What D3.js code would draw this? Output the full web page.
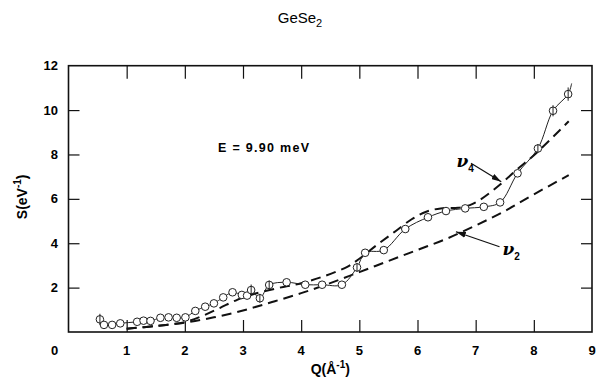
<!DOCTYPE html>
<html>
<head>
<meta charset="utf-8">
<script src="https://cdn.jsdelivr.net/npm/d3@7"></script>
<style>
  body { margin: 0; background: #fff; }
  svg { display: block; font-family: "Liberation Sans", Arial, sans-serif; }
</style>
</head>
<body>
<svg id="chart" width="597" height="379"></svg>
<script>
// measured points, Q (1/A) and S (1/eV)
const pointQ = [0.54, 0.61, 0.75, 0.89, 1.18, 1.29, 1.41, 1.58, 1.72, 1.86, 2.01, 2.18, 2.35, 2.50,
  2.66, 2.82, 2.98, 3.07, 3.14, 3.29, 3.45, 3.75, 4.07, 4.36, 4.70, 4.96, 5.10, 5.42, 5.79,
  6.18, 6.49, 6.82, 7.14, 7.42, 7.72, 8.07, 8.33, 8.59];
const pointS = [0.57, 0.32, 0.32, 0.39, 0.46, 0.51, 0.50, 0.64, 0.66, 0.64, 0.66, 0.95, 1.14, 1.29,
  1.56, 1.79, 1.67, 1.64, 1.89, 1.52, 2.12, 2.24, 2.13, 2.13, 2.13, 2.91, 3.57, 3.69, 4.64,
  5.17, 5.45, 5.57, 5.64, 5.84, 7.15, 8.27, 9.97, 10.72];
// half length of the error bars
const pointErr = [0.25, 0, 0, 0, 0, 0, 0, 0, 0, 0, 0, 0, 0, 0,
  0, 0, 0, 0, 0.25, 0.2, 0.2, 0, 0, 0, 0, 0.2, 0, 0, 0,
  0, 0, 0, 0, 0, 0, 0.2, 0.25, 0.3];

// solid guide line ends a bit past the last point
const tailQ = [8.65];
const tailS = [11.2];

// model curves
const nu4Q = [1.0, 1.5, 2.0, 2.3, 2.6, 2.9, 3.2, 3.6, 4.0, 4.4, 4.8, 5.0, 5.3, 5.6, 5.9, 6.15, 6.4, 6.7, 6.9, 7.1, 7.4, 7.7, 8.05, 8.6];
const nu4S = [0.15, 0.27, 0.45, 0.72, 1.08, 1.45, 1.72, 1.98, 2.2, 2.52, 2.95, 3.3, 3.92, 4.5, 5.08, 5.42, 5.57, 5.6, 5.72, 6.0, 6.6, 7.3, 8.08, 9.5];
const nu2Q = [1.0, 1.5, 2.0, 2.5, 3.0, 3.5, 4.0, 4.5, 5.0, 5.5, 6.0, 6.5, 7.0, 7.5, 8.0, 8.6];
const nu2S = [0.15, 0.27, 0.42, 0.66, 0.97, 1.35, 1.75, 2.2, 2.7, 3.2, 3.7, 4.2, 4.8, 5.45, 6.2, 7.07];

const xTicks = [0, 1, 2, 3, 4, 5, 6, 7, 8, 9];
const yTicks = [2, 4, 6, 8, 10, 12];
const innerXTicks = [1, 2, 3, 4, 5, 6, 7, 8];
const innerYTicks = [2, 4, 6, 8, 10];

// annotation positions in data units
const labels = [
  { name: "\u03BD", sub: "4", q: 6.67, s: 7.43, from: [6.92, 7.6], to: [7.44, 6.77] },
  { name: "\u03BD", sub: "2", q: 7.46, s: 3.47, from: [7.41, 3.84], to: [6.66, 4.52] }
];

const svg = d3.select("#chart");
const x = d3.scaleLinear().domain([0, 9]).range([68.5, 592]);
const y = d3.scaleLinear().domain([0, 12]).range([332, 65.7]);

// inward ticks on all four sides
svg.append("g").attr("transform", `translate(0,${y(0)})`)
  .call(d3.axisBottom(x).tickValues(innerXTicks).tickSize(-12).tickFormat(""))
  .call(g => g.select(".domain").remove());
svg.append("g").attr("transform", `translate(0,${y(12)})`)
  .call(d3.axisTop(x).tickValues(innerXTicks).tickSize(-13).tickFormat(""))
  .call(g => g.select(".domain").remove());
svg.append("g").attr("transform", `translate(${x(0)},0)`)
  .call(d3.axisLeft(y).tickValues(innerYTicks).tickSize(-11).tickFormat(""))
  .call(g => g.select(".domain").remove());
svg.append("g").attr("transform", `translate(${x(9)},0)`)
  .call(d3.axisRight(y).tickValues(innerYTicks).tickSize(-11).tickFormat(""))
  .call(g => g.select(".domain").remove());
svg.selectAll(".tick line").attr("stroke", "#111").attr("stroke-width", 1.2);

svg.append("rect")
  .attr("x", x(0)).attr("y", y(12))
  .attr("width", x(9) - x(0)).attr("height", y(0) - y(12))
  .attr("fill", "none").attr("stroke", "#111").attr("stroke-width", 1.6);

// tick labels
svg.append("g").selectAll("text").data(xTicks).join("text")
  .attr("x", d => d === 0 ? x(0) - 14 : x(d))
  .attr("y", 355)
  .attr("text-anchor", "middle")
  .attr("font-size", 13).attr("font-weight", "bold")
  .text(d => d);
svg.append("g").selectAll("text").data(yTicks).join("text")
  .attr("x", 58)
  .attr("y", d => y(d) + 4.5)
  .attr("text-anchor", "end")
  .attr("font-size", 13).attr("font-weight", "bold")
  .text(d => d);

// axis titles
svg.append("text")
  .attr("x", (x(0) + x(9)) / 2).attr("y", 374)
  .attr("text-anchor", "middle").attr("font-size", 14).attr("font-weight", "bold")
  .html('Q(Å<tspan dy="-6" font-size="10">-1</tspan><tspan dy="6">)</tspan>');
svg.append("text")
  .attr("transform", `translate(27,${(y(0) + y(12)) / 2 - 2}) rotate(-90)`)
  .attr("text-anchor", "middle").attr("font-size", 14).attr("font-weight", "bold")
  .html('S(eV<tspan dy="-6" font-size="10">-1</tspan><tspan dy="6">)</tspan>');

svg.append("text")
  .attr("x", 300).attr("y", 23)
  .attr("text-anchor", "middle").attr("font-size", 15)
  .html('GeSe<tspan dy="4" font-size="11">2</tspan>');

svg.append("text")
  .attr("x", x(2.57)).attr("y", y(8.1))
  .attr("font-size", 12.5).attr("font-weight", "bold").attr("letter-spacing", 1.3)
  .text("E = 9.90 meV");

// dashed model curves
const curve = (qs, ss) => qs.map((q, i) => [x(q), y(ss[i])]);
const smooth = d3.line().curve(d3.curveCatmullRom.alpha(0.5));
svg.append("path").attr("d", smooth(curve(nu2Q, nu2S)))
  .attr("fill", "none").attr("stroke", "#111").attr("stroke-width", 2)
  .attr("stroke-dasharray", "10,6");
svg.append("path").attr("d", smooth(curve(nu4Q, nu4S)))
  .attr("fill", "none").attr("stroke", "#111").attr("stroke-width", 2)
  .attr("stroke-dasharray", "10,6");

// solid line through the points
svg.append("path")
  .attr("d", smooth(curve(pointQ.concat(tailQ), pointS.concat(tailS))))
  .attr("fill", "none").attr("stroke", "#222").attr("stroke-width", 1);

// points with error bars
const pts = pointQ.map((q, i) => ({ q, s: pointS[i], e: pointErr[i] }));
const pg = svg.append("g");
pg.selectAll("circle").data(pts).join("circle")
  .attr("cx", d => x(d.q)).attr("cy", d => y(d.s)).attr("r", 3.8)
  .attr("fill", "#fff").attr("stroke", "#222").attr("stroke-width", 1);
pg.selectAll("line").data(pts.filter(d => d.e > 0)).join("line")
  .attr("x1", d => x(d.q)).attr("x2", d => x(d.q))
  .attr("y1", d => y(d.s - d.e)).attr("y2", d => y(d.s + d.e))
  .attr("stroke", "#222").attr("stroke-width", 1);

// labels with arrows
svg.append("defs").append("marker")
  .attr("id", "head").attr("viewBox", "0 0 10 6")
  .attr("refX", 10).attr("refY", 3)
  .attr("markerWidth", 10).attr("markerHeight", 6)
  .attr("markerUnits", "userSpaceOnUse").attr("orient", "auto")
  .append("path").attr("d", "M0,0L10,3L0,6Z").attr("fill", "#111");

labels.forEach(l => {
  svg.append("line")
    .attr("x1", x(l.from[0])).attr("y1", y(l.from[1]))
    .attr("x2", x(l.to[0])).attr("y2", y(l.to[1]))
    .attr("stroke", "#111").attr("stroke-width", 1.2)
    .attr("marker-end", "url(#head)");
  svg.append("text")
    .attr("x", x(l.q)).attr("y", y(l.s))
    .attr("font-family", "DejaVu Serif, serif").attr("font-style", "italic")
    .attr("font-weight", "bold").attr("font-size", 17)
    .html(`${l.name}<tspan dy="5" font-size="10" font-style="normal" font-family="Liberation Sans">${l.sub}</tspan>`);
});
</script>
</body>
</html>
